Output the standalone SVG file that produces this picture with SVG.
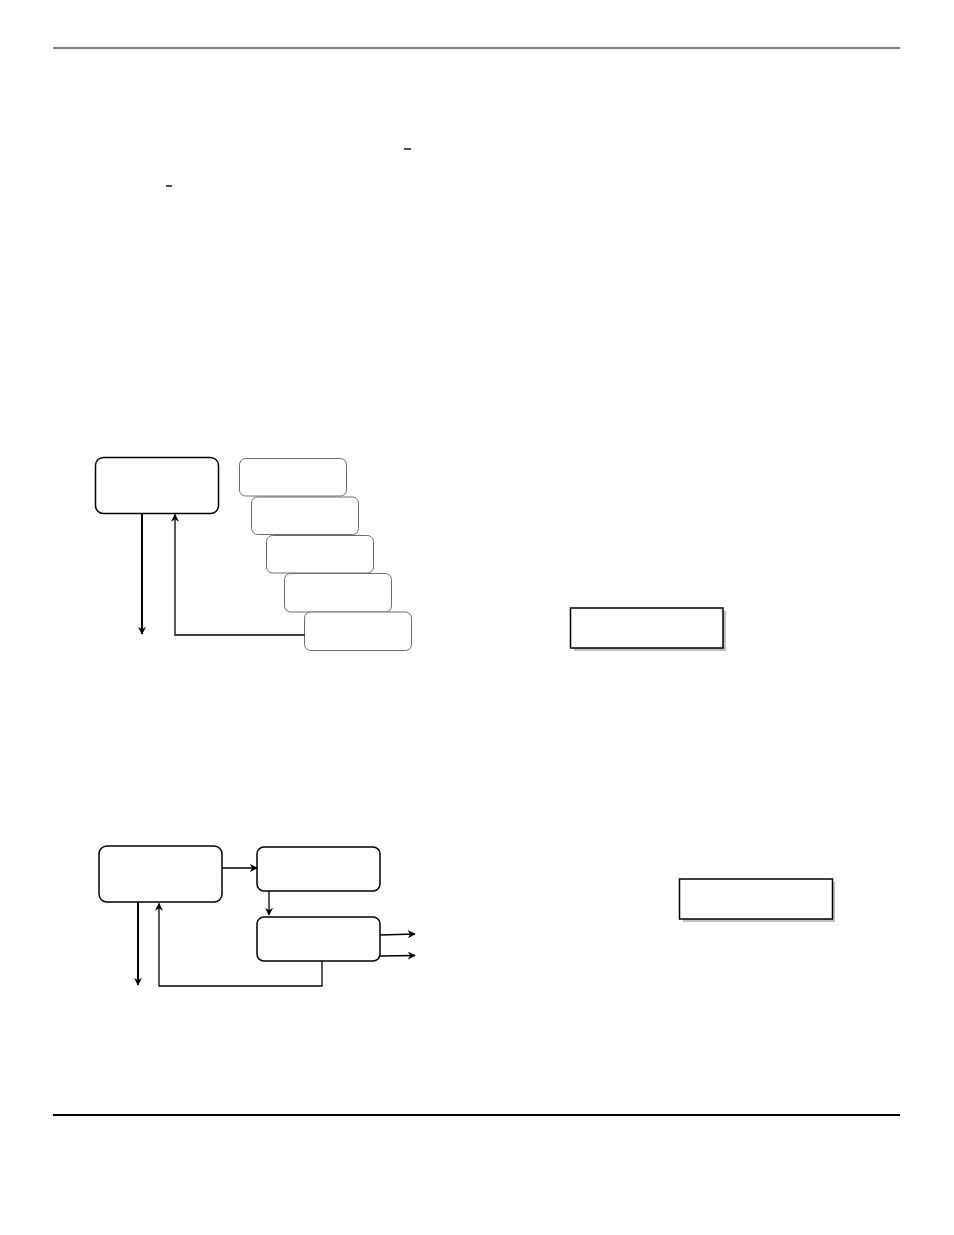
<svg xmlns="http://www.w3.org/2000/svg" width="954" height="1235" viewBox="0 0 954 1235">
<style>
.rule{stroke:#000;fill:none}
.box{fill:#fff;stroke:#000;stroke-width:1.5}
.gbox{fill:#fff;stroke:#6e6e6e;stroke-width:1}
.sbox{fill:#fff;stroke:#000;stroke-width:1.5}
.shadow{fill:#c0c0c0;stroke:none}
.conn{fill:none;stroke:#000;stroke-width:1.3}
.thick{stroke-width:2}
</style>
<defs>
<marker id="ah" viewBox="0 0 10 10" refX="9" refY="5" markerWidth="8" markerHeight="8" markerUnits="userSpaceOnUse" orient="auto">
<path d="M0,0 L10,5 L0,10 L3,5 Z" fill="#000"/>
</marker>
</defs>
<rect width="954" height="1235" fill="#fff"/>
<g id="page-rules">
<line class="rule" x1="53" y1="48" x2="900" y2="48" stroke-width="1.2"/>
<line class="rule" x1="53" y1="1115" x2="900" y2="1115" stroke-width="2.2"/>
<line class="rule" x1="404" y1="149" x2="411" y2="149" stroke-width="1.4"/>
<line class="rule" x1="166" y1="186" x2="172" y2="186" stroke-width="1.4"/>
</g>
<g id="top-main"><rect class="box" x="95.5" y="457.5" width="123" height="56" rx="8"/></g>
<g id="stack-1"><rect class="gbox" x="239.5" y="458.5" width="107" height="37.5" rx="6"/></g>
<g id="stack-2"><rect class="gbox" x="251.5" y="497" width="107" height="37.5" rx="6"/></g>
<g id="stack-3"><rect class="gbox" x="266.5" y="535.5" width="107" height="37.5" rx="6"/></g>
<g id="stack-4"><rect class="gbox" x="284.5" y="573.5" width="107" height="38.5" rx="6"/></g>
<g id="stack-5"><rect class="gbox" x="304.5" y="612" width="107" height="38.5" rx="6"/></g>
<g id="shadow-box-1">
<rect class="shadow" x="574" y="611" width="152" height="40"/>
<rect class="sbox" x="570.5" y="608" width="152.5" height="40"/>
</g>
<g id="bottom-a"><rect class="box" x="99" y="846" width="123" height="56" rx="8"/></g>
<g id="bottom-b"><rect class="box" x="257" y="847" width="123" height="44" rx="7"/></g>
<g id="bottom-c"><rect class="box" x="257" y="917" width="123" height="44" rx="7"/></g>
<g id="shadow-box-2">
<rect class="shadow" x="683" y="882" width="152" height="40"/>
<rect class="sbox" x="679.5" y="879" width="153" height="40"/>
</g>
<g id="connectors">
<line class="conn thick" x1="142" y1="513.5" x2="142" y2="634" marker-end="url(#ah)"/>
<polyline class="conn" points="304.5,635 175,635 175,514.5" marker-end="url(#ah)"/>
<line class="conn" x1="222" y1="868" x2="257" y2="868" marker-end="url(#ah)"/>
<line class="conn" x1="269" y1="891" x2="269" y2="915" marker-end="url(#ah)"/>
<line class="conn" x1="380" y1="935" x2="415" y2="934" marker-end="url(#ah)"/>
<line class="conn" x1="380" y1="956" x2="415" y2="955.5" marker-end="url(#ah)"/>
<line class="conn thick" x1="138" y1="902" x2="138" y2="985" marker-end="url(#ah)"/>
<polyline class="conn" points="322,961 322,986 159,986 159,903.5" marker-end="url(#ah)"/>
</g>
</svg>
